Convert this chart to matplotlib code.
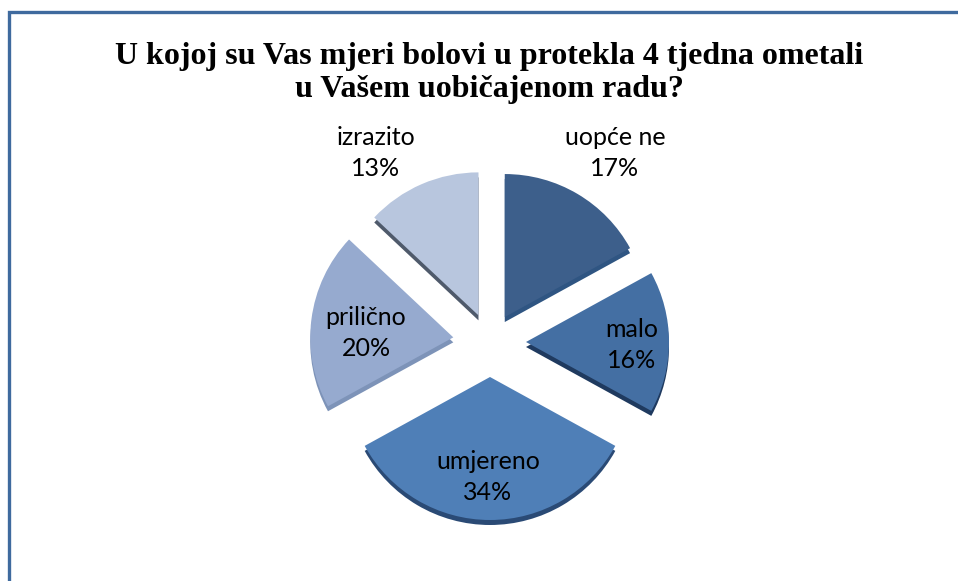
import matplotlib
matplotlib.use("Agg")
import matplotlib.pyplot as plt

W, H = 958, 581
categories = ["uopće ne", "malo", "umjereno", "prilično", "izrazito"]
values = [17, 16, 34, 20, 13]
percent_labels = ["17%", "16%", "34%", "20%", "13%"]
top_colors = ["#3D5F8B", "#446FA3", "#4F7FB7", "#96AACF", "#B8C6DE"]
side_colors = ["#2F5582", "#1F3A5F", "#2A4A75", "#7D93B8", "#4F5A6B"]
explode = [29, 36, 35, 37, 29]
title_lines = "U kojoj su Vas mjeri bolovi u protekla 4 tjedna ometali\nu Vašem uobičajenom radu?"
label_xy = [(615, 153), (632, 345), (488, 477), (366, 333), (376, 153)]

fig = plt.figure(figsize=(W / 100, H / 100), dpi=100, facecolor="white")
ax = fig.add_axes([0, 0, 1, 1])

cx, cy, r, depth = 490, H - 342, 143, 5
ax.pie(values, colors=side_colors, explode=explode, startangle=90, counterclock=False,
       radius=r, center=(cx, cy - depth), wedgeprops={"linewidth": 0})
ax.pie(values, colors=top_colors, explode=explode, startangle=90, counterclock=False,
       radius=r, center=(cx, cy), wedgeprops={"linewidth": 0})
ax.set_xlim(0, W)
ax.set_ylim(0, H)
ax.set_aspect("auto")
ax.axis("off")

# Card border: only the left and top edges fall inside the picture.
ax.plot([9.5, 9.5, W + 20], [-20, H - 12, H - 12], color="#3F6A9E", linewidth=2.4,
        solid_joinstyle="miter", clip_on=True)

ax.text(489, H - 73, title_lines, ha="center", va="center", family="Liberation Serif",
        fontweight="bold", fontsize=23, color="black", linespacing=1.19)

for name, pct, (x, y) in zip(categories, percent_labels, label_xy):
    ax.text(x, H - y, f"{name}\n{pct}", ha="center", va="center", family="Lato",
            fontsize=18, color="black", linespacing=1.42)

fig.savefig("out.png", dpi=100, facecolor="white")
